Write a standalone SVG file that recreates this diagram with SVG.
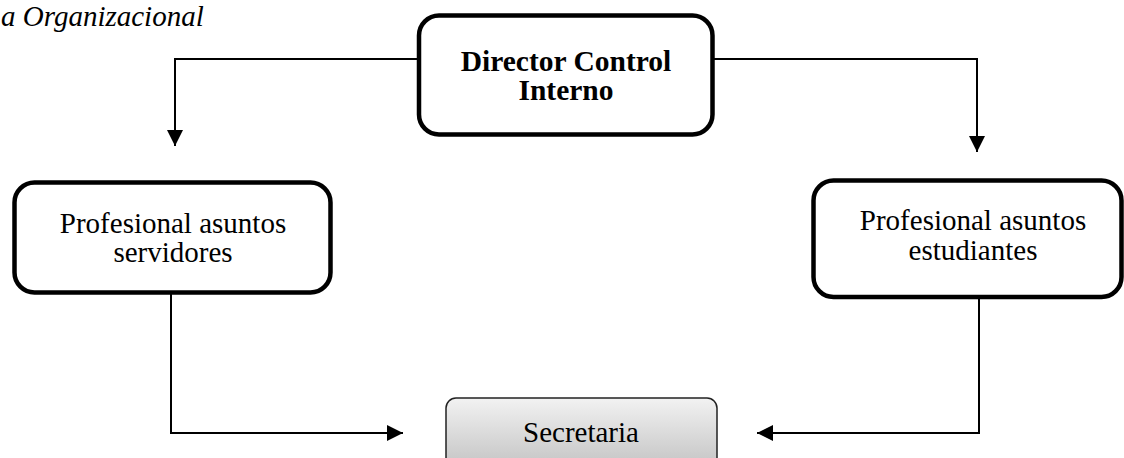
<svg xmlns="http://www.w3.org/2000/svg" width="1124" height="458" viewBox="0 0 1124 458">
<defs>
<style>
.box{fill:#fff;stroke:#000;stroke-width:4.5}
.t{font-family:"Liberation Serif","Times New Roman",serif;font-size:29px;fill:#000;text-anchor:middle}
.b{font-weight:bold;font-size:29.5px}
.ln{fill:none;stroke:#000;stroke-width:2}
</style>
<linearGradient id="g" x1="0" y1="0" x2="0" y2="1">
<stop offset="0" stop-color="#f2f2f2"/>
<stop offset="1" stop-color="#bdbdbd"/>
</linearGradient>
<marker id="arr" markerWidth="16" markerHeight="16" viewBox="0 0 16 16" refX="16" refY="8" orient="auto" markerUnits="userSpaceOnUse">
<path d="M0,0 L16,8 L0,16 Z" fill="#000"/>
</marker>
</defs>
<text x="1" y="26" style="font-family:'Liberation Serif','Times New Roman',serif;font-size:29px;font-style:italic">a Organizacional</text>
<g id="connectors">
<path class="ln" d="M419,59 H175 V146" marker-end="url(#arr)"/>
<path class="ln" d="M712,59 H977 V152" marker-end="url(#arr)"/>
<path class="ln" d="M171,293 V433 H403" marker-end="url(#arr)"/>
<path class="ln" d="M979,297 V433 H757" marker-end="url(#arr)"/>
</g>
<g id="director">
<rect class="box" x="419" y="15.5" width="293.5" height="119" rx="20"/>
<text class="t b" x="566" y="71">Director Control</text>
<text class="t b" x="566" y="100">Interno</text>
</g>
<g id="servidores">
<rect class="box" x="14.5" y="182.5" width="316" height="110" rx="20"/>
<text class="t" x="173" y="233">Profesional asuntos</text>
<text class="t" x="173" y="262">servidores</text>
</g>
<g id="estudiantes">
<rect class="box" x="813.5" y="180.5" width="308" height="116.5" rx="20"/>
<text class="t" x="973" y="230">Profesional asuntos</text>
<text class="t" x="973" y="260">estudiantes</text>
</g>
<g id="secretaria">
<rect x="446" y="398" width="271" height="80" rx="10" fill="url(#g)" stroke="#222" stroke-width="1.5"/>
<text class="t" x="581" y="442">Secretaria</text>
</g>
</svg>
